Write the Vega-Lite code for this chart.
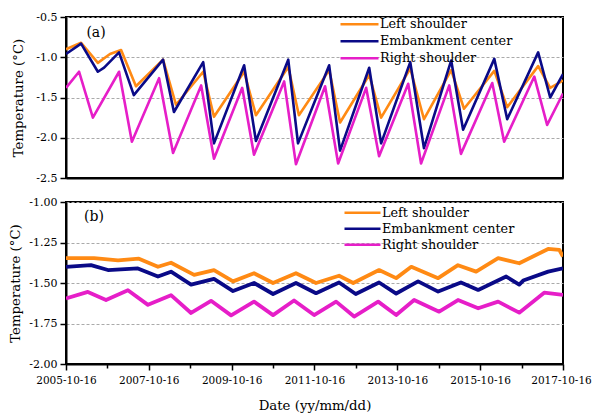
{
  "$schema": "https://vega.github.io/schema/vega-lite/v6.json",
  "padding": {"left": 7, "top": 10, "right": 5, "bottom": 2},
  "spacing": 24,
  "bounds": "flush",
  "config": {
    "font": "DejaVu Serif",
    "view": {"stroke": "#000", "strokeWidth": 2},
    "axis": {
      "domainColor": "#000", "domainWidth": 2,
      "tickColor": "#000", "tickWidth": 1.5,
      "labelFont": "DejaVu Serif", "labelFontSize": 11, "labelColor": "#000",
      "titleFont": "DejaVu Serif", "titleFontSize": 13.3, "titleFontWeight": "normal", "titleColor": "#000",
      "gridColor": "#aaaaaa", "gridDash": [3, 2], "gridWidth": 1
    },
    "legend": {"labelFont": "DejaVu Serif", "labelFontSize": 12.8, "labelColor": "#000"}
  },
  "datasets": {
    "a": [
      {"date": "2005-10-16", "value": -0.90, "series": "Left shoulder"},
      {"date": "2006-02-26", "value": -0.82, "series": "Left shoulder"},
      {"date": "2006-07-24", "value": -1.07, "series": "Left shoulder"},
      {"date": "2006-11-08", "value": -0.96, "series": "Left shoulder"},
      {"date": "2007-02-14", "value": -0.91, "series": "Left shoulder"},
      {"date": "2007-06-25", "value": -1.36, "series": "Left shoulder"},
      {"date": "2008-02-19", "value": -1.03, "series": "Left shoulder"},
      {"date": "2008-06-12", "value": -1.59, "series": "Left shoulder"},
      {"date": "2009-02-07", "value": -1.18, "series": "Left shoulder"},
      {"date": "2009-05-13", "value": -1.74, "series": "Left shoulder"},
      {"date": "2010-02-03", "value": -1.18, "series": "Left shoulder"},
      {"date": "2010-05-18", "value": -1.72, "series": "Left shoulder"},
      {"date": "2011-02-27", "value": -1.12, "series": "Left shoulder"},
      {"date": "2011-06-01", "value": -1.72, "series": "Left shoulder"},
      {"date": "2012-02-23", "value": -1.16, "series": "Left shoulder"},
      {"date": "2012-05-29", "value": -1.81, "series": "Left shoulder"},
      {"date": "2013-02-10", "value": -1.22, "series": "Left shoulder"},
      {"date": "2013-05-26", "value": -1.75, "series": "Left shoulder"},
      {"date": "2014-02-07", "value": -1.14, "series": "Left shoulder"},
      {"date": "2014-06-08", "value": -1.77, "series": "Left shoulder"},
      {"date": "2015-02-03", "value": -1.16, "series": "Left shoulder"},
      {"date": "2015-05-27", "value": -1.64, "series": "Left shoulder"},
      {"date": "2016-02-18", "value": -1.17, "series": "Left shoulder"},
      {"date": "2016-06-11", "value": -1.62, "series": "Left shoulder"},
      {"date": "2017-03-11", "value": -1.11, "series": "Left shoulder"},
      {"date": "2017-06-25", "value": -1.38, "series": "Left shoulder"},
      {"date": "2017-10-16", "value": -1.29, "series": "Left shoulder"},

      {"date": "2005-10-16", "value": -0.96, "series": "Embankment center"},
      {"date": "2006-02-26", "value": -0.83, "series": "Embankment center"},
      {"date": "2006-07-24", "value": -1.18, "series": "Embankment center"},
      {"date": "2006-09-17", "value": -1.13, "series": "Embankment center"},
      {"date": "2007-01-27", "value": -0.94, "series": "Embankment center"},
      {"date": "2007-06-06", "value": -1.47, "series": "Embankment center"},
      {"date": "2008-02-19", "value": -1.03, "series": "Embankment center"},
      {"date": "2008-05-25", "value": -1.68, "series": "Embankment center"},
      {"date": "2009-02-07", "value": -1.06, "series": "Embankment center"},
      {"date": "2009-05-13", "value": -2.07, "series": "Embankment center"},
      {"date": "2010-02-03", "value": -1.10, "series": "Embankment center"},
      {"date": "2010-05-18", "value": -2.04, "series": "Embankment center"},
      {"date": "2011-02-27", "value": -1.03, "series": "Embankment center"},
      {"date": "2011-05-24", "value": -2.07, "series": "Embankment center"},
      {"date": "2012-02-23", "value": -1.10, "series": "Embankment center"},
      {"date": "2012-05-29", "value": -2.16, "series": "Embankment center"},
      {"date": "2013-02-10", "value": -1.13, "series": "Embankment center"},
      {"date": "2013-05-26", "value": -2.07, "series": "Embankment center"},
      {"date": "2014-02-07", "value": -1.06, "series": "Embankment center"},
      {"date": "2014-06-08", "value": -2.13, "series": "Embankment center"},
      {"date": "2015-02-03", "value": -1.04, "series": "Embankment center"},
      {"date": "2015-05-19", "value": -1.90, "series": "Embankment center"},
      {"date": "2016-02-18", "value": -1.02, "series": "Embankment center"},
      {"date": "2016-06-11", "value": -1.77, "series": "Embankment center"},
      {"date": "2017-03-11", "value": -0.94, "series": "Embankment center"},
      {"date": "2017-06-25", "value": -1.50, "series": "Embankment center"},
      {"date": "2017-10-16", "value": -1.21, "series": "Embankment center"},

      {"date": "2005-10-16", "value": -1.38, "series": "Right shoulder"},
      {"date": "2006-02-08", "value": -1.18, "series": "Right shoulder"},
      {"date": "2006-06-10", "value": -1.75, "series": "Right shoulder"},
      {"date": "2007-01-27", "value": -1.18, "series": "Right shoulder"},
      {"date": "2007-05-20", "value": -2.05, "series": "Right shoulder"},
      {"date": "2008-01-15", "value": -1.26, "series": "Right shoulder"},
      {"date": "2008-05-17", "value": -2.19, "series": "Right shoulder"},
      {"date": "2009-01-20", "value": -1.35, "series": "Right shoulder"},
      {"date": "2009-05-13", "value": -2.26, "series": "Right shoulder"},
      {"date": "2010-01-17", "value": -1.38, "series": "Right shoulder"},
      {"date": "2010-05-01", "value": -2.21, "series": "Right shoulder"},
      {"date": "2011-01-22", "value": -1.30, "series": "Right shoulder"},
      {"date": "2011-05-06", "value": -2.33, "series": "Right shoulder"},
      {"date": "2012-01-18", "value": -1.36, "series": "Right shoulder"},
      {"date": "2012-05-12", "value": -2.32, "series": "Right shoulder"},
      {"date": "2013-01-14", "value": -1.38, "series": "Right shoulder"},
      {"date": "2013-05-08", "value": -2.23, "series": "Right shoulder"},
      {"date": "2014-01-20", "value": -1.33, "series": "Right shoulder"},
      {"date": "2014-05-13", "value": -2.32, "series": "Right shoulder"},
      {"date": "2015-01-17", "value": -1.35, "series": "Right shoulder"},
      {"date": "2015-04-30", "value": -2.20, "series": "Right shoulder"},
      {"date": "2016-01-31", "value": -1.32, "series": "Right shoulder"},
      {"date": "2016-05-15", "value": -2.05, "series": "Right shoulder"},
      {"date": "2017-02-05", "value": -1.24, "series": "Right shoulder"},
      {"date": "2017-05-29", "value": -1.84, "series": "Right shoulder"},
      {"date": "2017-10-16", "value": -1.45, "series": "Right shoulder"}
    ],
    "b": [
      {"date": "2005-10-16", "value": -1.347, "series": "Left shoulder"},
      {"date": "2006-06-20", "value": -1.347, "series": "Left shoulder"},
      {"date": "2007-01-18", "value": -1.36, "series": "Left shoulder"},
      {"date": "2007-07-21", "value": -1.35, "series": "Left shoulder"},
      {"date": "2008-01-05", "value": -1.40, "series": "Left shoulder"},
      {"date": "2008-04-29", "value": -1.375, "series": "Left shoulder"},
      {"date": "2008-11-19", "value": -1.45, "series": "Left shoulder"},
      {"date": "2009-05-13", "value": -1.42, "series": "Left shoulder"},
      {"date": "2009-10-28", "value": -1.49, "series": "Left shoulder"},
      {"date": "2010-05-01", "value": -1.44, "series": "Left shoulder"},
      {"date": "2010-10-16", "value": -1.50, "series": "Left shoulder"},
      {"date": "2011-05-06", "value": -1.44, "series": "Left shoulder"},
      {"date": "2011-10-30", "value": -1.50, "series": "Left shoulder"},
      {"date": "2012-05-20", "value": -1.455, "series": "Left shoulder"},
      {"date": "2012-09-22", "value": -1.50, "series": "Left shoulder"},
      {"date": "2013-05-08", "value": -1.42, "series": "Left shoulder"},
      {"date": "2013-10-06", "value": -1.47, "series": "Left shoulder"},
      {"date": "2014-02-16", "value": -1.40, "series": "Left shoulder"},
      {"date": "2014-10-11", "value": -1.47, "series": "Left shoulder"},
      {"date": "2015-04-04", "value": -1.39, "series": "Left shoulder"},
      {"date": "2015-09-11", "value": -1.43, "series": "Left shoulder"},
      {"date": "2016-03-23", "value": -1.347, "series": "Left shoulder"},
      {"date": "2016-09-25", "value": -1.378, "series": "Left shoulder"},
      {"date": "2017-06-07", "value": -1.29, "series": "Left shoulder"},
      {"date": "2017-09-13", "value": -1.295, "series": "Left shoulder"},
      {"date": "2017-10-16", "value": -1.337, "series": "Left shoulder"},

      {"date": "2005-10-16", "value": -1.40, "series": "Embankment center"},
      {"date": "2006-05-24", "value": -1.39, "series": "Embankment center"},
      {"date": "2006-10-21", "value": -1.42, "series": "Embankment center"},
      {"date": "2007-07-12", "value": -1.41, "series": "Embankment center"},
      {"date": "2008-01-05", "value": -1.46, "series": "Embankment center"},
      {"date": "2008-04-29", "value": -1.43, "series": "Embankment center"},
      {"date": "2008-10-23", "value": -1.51, "series": "Embankment center"},
      {"date": "2009-05-13", "value": -1.475, "series": "Embankment center"},
      {"date": "2009-10-28", "value": -1.55, "series": "Embankment center"},
      {"date": "2010-05-01", "value": -1.50, "series": "Embankment center"},
      {"date": "2010-10-16", "value": -1.568, "series": "Embankment center"},
      {"date": "2011-05-06", "value": -1.50, "series": "Embankment center"},
      {"date": "2011-10-30", "value": -1.563, "series": "Embankment center"},
      {"date": "2012-05-20", "value": -1.497, "series": "Embankment center"},
      {"date": "2012-10-14", "value": -1.568, "series": "Embankment center"},
      {"date": "2013-05-08", "value": -1.497, "series": "Embankment center"},
      {"date": "2013-10-06", "value": -1.565, "series": "Embankment center"},
      {"date": "2014-04-17", "value": -1.49, "series": "Embankment center"},
      {"date": "2014-10-11", "value": -1.553, "series": "Embankment center"},
      {"date": "2015-04-30", "value": -1.497, "series": "Embankment center"},
      {"date": "2015-09-29", "value": -1.543, "series": "Embankment center"},
      {"date": "2016-06-02", "value": -1.46, "series": "Embankment center"},
      {"date": "2016-09-25", "value": -1.51, "series": "Embankment center"},
      {"date": "2016-10-30", "value": -1.485, "series": "Embankment center"},
      {"date": "2017-06-07", "value": -1.43, "series": "Embankment center"},
      {"date": "2017-10-16", "value": -1.41, "series": "Embankment center"},

      {"date": "2005-10-16", "value": -1.595, "series": "Right shoulder"},
      {"date": "2006-04-27", "value": -1.555, "series": "Right shoulder"},
      {"date": "2006-10-04", "value": -1.605, "series": "Right shoulder"},
      {"date": "2007-04-15", "value": -1.545, "series": "Right shoulder"},
      {"date": "2007-10-09", "value": -1.635, "series": "Right shoulder"},
      {"date": "2008-04-29", "value": -1.575, "series": "Right shoulder"},
      {"date": "2008-10-23", "value": -1.685, "series": "Right shoulder"},
      {"date": "2009-04-17", "value": -1.61, "series": "Right shoulder"},
      {"date": "2009-10-11", "value": -1.70, "series": "Right shoulder"},
      {"date": "2010-05-01", "value": -1.615, "series": "Right shoulder"},
      {"date": "2010-10-16", "value": -1.698, "series": "Right shoulder"},
      {"date": "2011-04-19", "value": -1.608, "series": "Right shoulder"},
      {"date": "2011-10-13", "value": -1.698, "series": "Right shoulder"},
      {"date": "2012-04-24", "value": -1.615, "series": "Right shoulder"},
      {"date": "2012-09-30", "value": -1.707, "series": "Right shoulder"},
      {"date": "2013-04-30", "value": -1.615, "series": "Right shoulder"},
      {"date": "2013-10-06", "value": -1.698, "series": "Right shoulder"},
      {"date": "2014-03-13", "value": -1.605, "series": "Right shoulder"},
      {"date": "2014-10-20", "value": -1.677, "series": "Right shoulder"},
      {"date": "2015-04-04", "value": -1.605, "series": "Right shoulder"},
      {"date": "2015-09-29", "value": -1.656, "series": "Right shoulder"},
      {"date": "2016-03-23", "value": -1.615, "series": "Right shoulder"},
      {"date": "2016-09-25", "value": -1.683, "series": "Right shoulder"},
      {"date": "2017-05-03", "value": -1.56, "series": "Right shoulder"},
      {"date": "2017-10-16", "value": -1.574, "series": "Right shoulder"}
    ]
  },
  "resolve": {"scale": {"color": "independent", "y": "independent"}, "legend": {"color": "independent"}},
  "vconcat": [
    {
      "width": 497, "height": 161,
      "layer": [
        {
          "data": {"name": "a"},
          "mark": {"type": "line", "interpolate": "linear", "strokeWidth": 2.6, "strokeJoin": "round", "clip": true},
          "encoding": {
            "x": {"field": "date", "type": "temporal",
              "scale": {"type": "utc", "domain": [{"year": 2005, "month": 10, "date": 16, "utc": true}, {"year": 2017, "month": 10, "date": 16, "utc": true}]},
              "axis": {"labels": false, "ticks": false, "grid": false, "title": null}},
            "y": {"field": "value", "type": "quantitative",
              "scale": {"domain": [-2.5, -0.5], "nice": false, "zero": false},
              "axis": {"title": "Temperature (°C)", "grid": true,
                "values": [-0.5, -0.75, -1, -1.25, -1.5, -1.75, -2, -2.25, -2.5],
                "labelExpr": "abs(datum.value*4) % 2 == 0 ? replace(format(datum.value, '.1f'), '\u2212', '-') : ''",
                "tickSize": {"condition": {"test": "abs(datum.value*4) % 2 == 0", "value": 6}, "value": 3},
                "labelPadding": 3, "titlePadding": 10}},
            "color": {"field": "series", "type": "nominal",
              "scale": {"domain": ["Left shoulder", "Embankment center", "Right shoulder"], "range": ["#FF8A14", "#0A0A87", "#E61EC8"]},
              "legend": {"orient": "none", "legendX": 273, "legendY": -1, "title": null, "symbolType": "stroke", "symbolSize": 1444, "symbolStrokeWidth": 2.5, "labelOffset": 0, "clipHeight": 16.5, "rowPadding": 0}}
          }
        },
        {
          "data": {"values": [{}]},
          "mark": {"type": "text", "fontSize": 14, "font": "DejaVu Serif", "color": "#000"},
          "encoding": {
            "x": {"datum": {"year": 2006, "month": 7, "date": 8, "utc": true}, "type": "temporal"},
            "y": {"datum": -0.70, "type": "quantitative"},
            "text": {"value": "(a)"}
          }
        }
      ]
    },
    {
      "width": 497, "height": 162,
      "layer": [
        {
          "data": {"name": "b"},
          "mark": {"type": "line", "interpolate": "linear", "strokeWidth": 3.8, "strokeJoin": "round", "clip": true},
          "encoding": {
            "x": {"field": "date", "type": "temporal",
              "scale": {"type": "utc", "domain": [{"year": 2005, "month": 10, "date": 16, "utc": true}, {"year": 2017, "month": 10, "date": 16, "utc": true}]},
              "axis": {"title": "Date (yy/mm/dd)", "grid": false,
                "values": [
                  {"year": 2005, "month": 10, "date": 16, "utc": true}, {"year": 2006, "month": 10, "date": 16, "utc": true},
                  {"year": 2007, "month": 10, "date": 16, "utc": true}, {"year": 2008, "month": 10, "date": 16, "utc": true},
                  {"year": 2009, "month": 10, "date": 16, "utc": true}, {"year": 2010, "month": 10, "date": 16, "utc": true},
                  {"year": 2011, "month": 10, "date": 16, "utc": true}, {"year": 2012, "month": 10, "date": 16, "utc": true},
                  {"year": 2013, "month": 10, "date": 16, "utc": true}, {"year": 2014, "month": 10, "date": 16, "utc": true},
                  {"year": 2015, "month": 10, "date": 16, "utc": true}, {"year": 2016, "month": 10, "date": 16, "utc": true},
                  {"year": 2017, "month": 10, "date": 16, "utc": true}],
                "labelExpr": "utcyear(datum.value) % 2 == 1 ? utcFormat(datum.value, '%Y-%m-%d') : ''",
                "tickSize": {"condition": {"test": "utcyear(datum.value) % 2 == 1", "value": 6}, "value": 4},
                "labelOffset": {"condition": {"test": "utcyear(datum.value) == 2017", "value": -2}, "value": 0},
                "labelFontSize": 10.5,
                "labelPadding": 5, "titlePadding": 13, "labelFlush": false, "labelOverlap": false}},
            "y": {"field": "value", "type": "quantitative",
              "scale": {"domain": [-2.0, -1.0], "nice": false, "zero": false},
              "axis": {"title": "Temperature (°C)", "grid": true,
                "values": [-1, -1.125, -1.25, -1.375, -1.5, -1.625, -1.75, -1.875, -2],
                "labelExpr": "abs(datum.value*8) % 2 == 0 ? replace(format(datum.value, '.2f'), '\u2212', '-') : ''",
                "tickSize": {"condition": {"test": "abs(datum.value*8) % 2 == 0", "value": 6}, "value": 3},
                "labelPadding": 3, "titlePadding": 6}},
            "color": {"field": "series", "type": "nominal",
              "scale": {"domain": ["Left shoulder", "Embankment center", "Right shoulder"], "range": ["#FF8A14", "#0A0A87", "#E61EC8"]},
              "legend": {"orient": "none", "legendX": 277, "legendY": 3, "title": null, "symbolType": "stroke", "symbolSize": 1296, "symbolStrokeWidth": 2.5, "labelOffset": 0, "clipHeight": 15.7, "rowPadding": 0}}
          }
        },
        {
          "data": {"values": [{}]},
          "mark": {"type": "text", "fontSize": 14, "font": "DejaVu Serif", "color": "#000"},
          "encoding": {
            "x": {"datum": {"year": 2006, "month": 6, "date": 20, "utc": true}, "type": "temporal"},
            "y": {"datum": -1.093, "type": "quantitative"},
            "text": {"value": "(b)"}
          }
        }
      ]
    }
  ]
}
